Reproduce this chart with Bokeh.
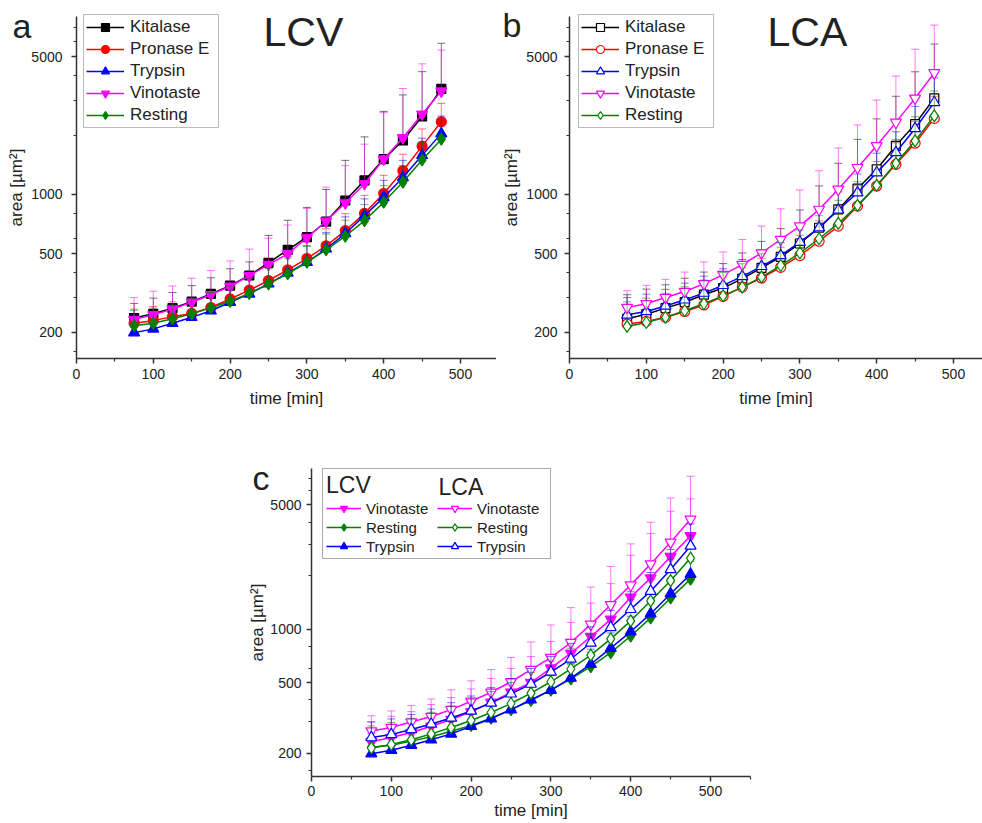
import math
from bokeh.plotting import figure
from bokeh.models import (FixedTicker, Legend, LegendItem, Label, Range1d, Spacer,
                          BasicTickFormatter)
from bokeh.layouts import row, column
from bokeh.embed import file_html
from bokeh.resources import INLINE

FONT = "Liberation Sans"
TXT = "#222222"
AX = "#333333"

# ---------------- data ----------------
time_min = [75, 100, 125, 150, 175, 200, 225, 250, 275, 300, 325, 350, 375, 400, 425, 450, 475]

# LCV (panel a) means
lcv_kitalase = [236, 248, 265, 286, 313, 345, 388, 450, 524, 607, 729, 932, 1178, 1511, 1879, 2489, 3436]
lcv_pronase = [222, 229, 240, 249, 267, 295, 327, 366, 414, 473, 549, 655, 802, 1011, 1319, 1759, 2337]
lcv_trypsin = [199, 208, 222, 238, 257, 284, 313, 352, 400, 453, 530, 634, 781, 966, 1220, 1580, 2036]
lcv_vinotaste = [232, 245, 262, 284, 310, 342, 387, 441, 500, 603, 731, 906, 1134, 1511, 1938, 2555, 3345]
lcv_resting = [216, 222, 234, 248, 266, 287, 315, 352, 396, 453, 524, 614, 737, 913, 1156, 1496, 1909]
# LCV upper error-bar ends
lcv_kitalase_up = [280, 298, 318, 345, 378, 420, 455, 620, 740, 860, 1060, 1490, 1960, 2640, 3200, 4200, 5850]
lcv_pronase_up = [262, 270, 285, 298, 320, 350, 390, 440, 500, 575, 670, 800, 990, 1250, 1600, 2150, 2900]
lcv_trypsin_up = [245, 255, 270, 290, 312, 345, 380, 425, 485, 550, 640, 770, 950, 1180, 1490, 1930, 2500]
lcv_vinotaste_up = [300, 323, 343, 376, 411, 460, 528, 600, 700, 850, 1090, 1400, 1800, 2600, 3450, 4600, 5400]
lcv_resting_up = [258, 265, 278, 296, 318, 343, 377, 420, 475, 545, 630, 740, 890, 1110, 1400, 1830, 2400]

# LCA (panel b) means
lca_kitalase = [234, 247, 265, 284, 310, 335, 374, 424, 482, 564, 678, 840, 1070, 1343, 1766, 2275, 3077]
lca_pronase = [220, 227, 238, 255, 275, 304, 339, 377, 427, 490, 579, 691, 873, 1104, 1422, 1820, 2432]
lca_trypsin = [245, 255, 272, 292, 316, 346, 384, 432, 490, 573, 678, 834, 1021, 1291, 1633, 2163, 2933]
lca_vinotaste = [267, 279, 300, 322, 352, 392, 441, 505, 591, 691, 840, 1062, 1368, 1766, 2322, 3077, 4140]
lca_resting = [214, 224, 238, 257, 279, 306, 339, 381, 436, 505, 596, 713, 880, 1112, 1439, 1871, 2506]
# LCA upper error-bar ends
lca_kitalase_up = [310, 331, 348, 376, 404, 446, 505, 578, 671, 834, 1105, 1440, 1904, 2418, 3150, 4193, 5799]
lca_pronase_up = [275, 285, 300, 320, 345, 380, 425, 475, 540, 620, 735, 880, 1110, 1410, 1830, 2350, 3150]
lca_trypsin_up = [300, 312, 330, 355, 385, 420, 468, 525, 600, 700, 830, 1030, 1270, 1620, 2080, 2800, 3900]
lca_vinotaste_up = [325, 346, 371, 404, 455, 511, 591, 691, 846, 1054, 1319, 1722, 2253, 3013, 3988, 5457, 7233]
lca_resting_up = [285, 298, 315, 340, 368, 402, 445, 500, 570, 660, 780, 935, 1160, 1470, 1900, 2480, 3350]

enzymes = ["Kitalase", "Pronase E", "Trypsin", "Vinotaste", "Resting"]
lcv = {"Kitalase": (lcv_kitalase, lcv_kitalase_up), "Pronase E": (lcv_pronase, lcv_pronase_up),
       "Trypsin": (lcv_trypsin, lcv_trypsin_up), "Vinotaste": (lcv_vinotaste, lcv_vinotaste_up),
       "Resting": (lcv_resting, lcv_resting_up)}
lca = {"Kitalase": (lca_kitalase, lca_kitalase_up), "Pronase E": (lca_pronase, lca_pronase_up),
       "Trypsin": (lca_trypsin, lca_trypsin_up), "Vinotaste": (lca_vinotaste, lca_vinotaste_up),
       "Resting": (lca_resting, lca_resting_up)}
panel_c_order = ["Vinotaste", "Resting", "Trypsin"]

y_major = [200, 500, 1000, 5000]
y_minor = [160, 300, 400, 600, 800, 2000, 3000, 4000, 6000, 7000]
x_major = [0, 100, 200, 300, 400, 500]
x_minor = [50, 150, 250, 350, 450, 550]
X_END = 550
Y0, Y1 = 148, 8000

COL = {"Kitalase": "#000000", "Pronase E": "#ff0000", "Trypsin": "#0000ff",
       "Vinotaste": "#ff00ff", "Resting": "#008000"}
MARK = {"Kitalase": "square", "Pronase E": "circle", "Trypsin": "triangle",
        "Vinotaste": "inverted_triangle", "Resting": "diamond"}
MSIZE = {"square": 9, "circle": 10, "triangle": 11, "inverted_triangle": 11, "diamond": 12}


class Panel:
    """Canvas placement (page px) -> data ranges so the axes sit where the reference has them."""

    def __init__(self, left, top, width, height, ax_x, ax_y, top_y, x500):
        self.left, self.top, self.w, self.h = left, top, width, height
        self.ax_x, self.ax_y = ax_x, ax_y
        self.ppu = (x500 - ax_x) / 500.0
        self.dpp = (math.log10(Y1) - math.log10(Y0)) / (ax_y - top_y)

    def x(self, page_x):
        return (page_x - self.ax_x) / self.ppu

    def y(self, page_y):
        return 10 ** (math.log10(Y0) + (self.ax_y - page_y) * self.dpp)


def make_fig(P, lab_so, axlab_so, xlab_so):
    p = figure(width=P.w, height=P.h,
               x_range=Range1d(P.x(P.left), P.x(P.left + P.w)),
               y_range=Range1d(P.y(P.top + P.h), P.y(P.top)),
               y_axis_type="log", output_backend="svg", toolbar_location=None,
               min_border_left=0, min_border_top=0, min_border_bottom=0, min_border_right=0)
    p.title.visible = False
    p.grid.visible = False
    p.outline_line_color = None
    for ax in (p.xaxis[0], p.yaxis[0]):
        ax.axis_line_color = AX
        ax.axis_line_width = 1.5
        ax.major_tick_line_color = AX
        ax.major_tick_line_width = 1.5
        ax.minor_tick_line_color = AX
        ax.minor_tick_line_width = 1.2
        ax.major_tick_in = 0
        ax.major_tick_out = 5
        ax.minor_tick_in = 0
        ax.minor_tick_out = 3
        ax.major_label_text_font = FONT
        ax.major_label_text_font_size = "14px"
        ax.major_label_text_color = TXT
        ax.axis_label_text_font = FONT
        ax.axis_label_text_font_size = "17px"
        ax.axis_label_text_font_style = "normal"
        ax.axis_label_text_color = TXT
    p.xaxis.ticker = FixedTicker(ticks=x_major, minor_ticks=x_minor)
    p.yaxis.ticker = FixedTicker(ticks=y_major, minor_ticks=y_minor)
    p.yaxis.formatter = BasicTickFormatter(use_scientific=False)
    p.xaxis.fixed_location = Y0
    p.yaxis.fixed_location = 0
    p.xaxis.bounds = (0, X_END)
    p.yaxis.bounds = (Y0, Y1)
    p.xaxis.major_label_standoff = 6
    p.yaxis.major_label_standoff = lab_so
    p.yaxis.axis_label_standoff = axlab_so
    p.xaxis.axis_label_standoff = xlab_so
    p.yaxis.axis_label = "area [µm²]"
    p.xaxis.axis_label = "time [min]"
    return p


def draw_series(p, name, means, ups, hollow):
    c = COL[name]
    p.segment(x0=time_min, y0=means, x1=time_min, y1=ups, line_color=c, line_alpha=0.5, line_width=1)
    p.scatter(x=time_min, y=ups, marker="dash", size=8, line_color=c, line_alpha=0.55, line_width=1)
    lr = p.line(x=time_min, y=means, line_color=c, line_width=1.5)
    m = MARK[name]
    sr = p.scatter(x=time_min, y=means, marker=m, size=MSIZE[m], line_color=c, line_width=1.2,
                   fill_color=("white" if hollow else c))
    return [lr, sr]


def add_text(p, P, txt, page_x, page_baseline, size_px):
    # Bokeh draws this label ~0.37 em lower than the requested point; compensate
    yb = page_baseline - 0.37 * size_px
    p.add_layout(Label(x=P.x(page_x), y=P.y(yb), text=txt, text_font=FONT,
                       text_font_size=f"{size_px}px", text_color=TXT, text_align="left",
                       text_baseline="alphabetic", level="overlay"))


def simple_legend(p, P, items, page_left, page_top, height):
    lg = Legend(items=items, location=(page_left - P.left, P.h - (page_top - P.top) - height),
                margin=0, padding=2, spacing=2,
                label_text_font=FONT, label_text_font_size="17px", label_text_color=TXT,
                glyph_width=38, glyph_height=20, label_height=20, label_width=86, label_standoff=6,
                border_line_color="#777777", border_line_width=1, background_fill_color="white",
                background_fill_alpha=1)
    p.add_layout(lg, "center")


# ---------------- panel a ----------------
PA = Panel(left=0, top=0, width=496, height=420, ax_x=76, ax_y=357.5, top_y=16, x500=460)
pa = make_fig(PA, 9, 2, 6)
items_a = []
for n in enzymes:
    rs = draw_series(pa, n, lcv[n][0], lcv[n][1], False)
    items_a.append(LegendItem(label=n, renderers=rs))
simple_legend(pa, PA, items_a, 83, 16, 112)
add_text(pa, PA, "a", 12, 38, 34)
add_text(pa, PA, "LCV", 263, 47, 41)

# ---------------- panel b ----------------
PB = Panel(left=496, top=0, width=486, height=420, ax_x=569, ax_y=357.5, top_y=16, x500=953)
pb = make_fig(PB, 7, 2, 6)
items_b = []
for n in enzymes:
    rs = draw_series(pb, n, lca[n][0], lca[n][1], True)
    items_b.append(LegendItem(label=n, renderers=rs))
simple_legend(pb, PB, items_b, 578, 16, 112)
add_text(pb, PB, "b", 502, 37, 34)
add_text(pb, PB, "LCA", 767, 47, 41)

# ---------------- panel c ----------------
PC = Panel(left=240, top=440, width=520, height=383, ax_x=311, ax_y=776, top_y=468, x500=710)
pc = make_fig(PC, 5, 0, 2)
pc.xaxis.major_label_standoff = 4
items_v, items_l = [], []
for n in panel_c_order:
    rs = draw_series(pc, n, lcv[n][0], lcv[n][1], False)
    items_v.append(LegendItem(label=n, renderers=rs))
for n in panel_c_order:
    rs = draw_series(pc, n, lca[n][0], lca[n][1], True)
    items_l.append(LegendItem(label=n, renderers=rs))
lgc = Legend(items=items_v + items_l, location=(322 - PC.left, PC.h - (470 - PC.top) - 89),
             margin=0, padding=3, spacing=1, orientation="vertical", nrows=3, title="LCV",
             title_text_font=FONT, title_text_font_size="23px", title_text_font_style="normal",
             title_text_color=TXT, title_standoff=0,
             label_text_font=FONT, label_text_font_size="15px", label_text_color=TXT,
             glyph_width=35, glyph_height=18, label_height=18, label_width=70, label_standoff=5,
             border_line_color="#555555", border_line_width=1.2, background_fill_color="white",
             background_fill_alpha=0)
pc.add_layout(lgc, "center")
add_text(pc, PC, "LCA", 438, 495, 23)
add_text(pc, PC, "c", 252, 490, 34)

layout = column(row(pa, pb), Spacer(height=20), row(Spacer(width=240), pc))
open("out.html", "w").write(file_html(layout, INLINE))
